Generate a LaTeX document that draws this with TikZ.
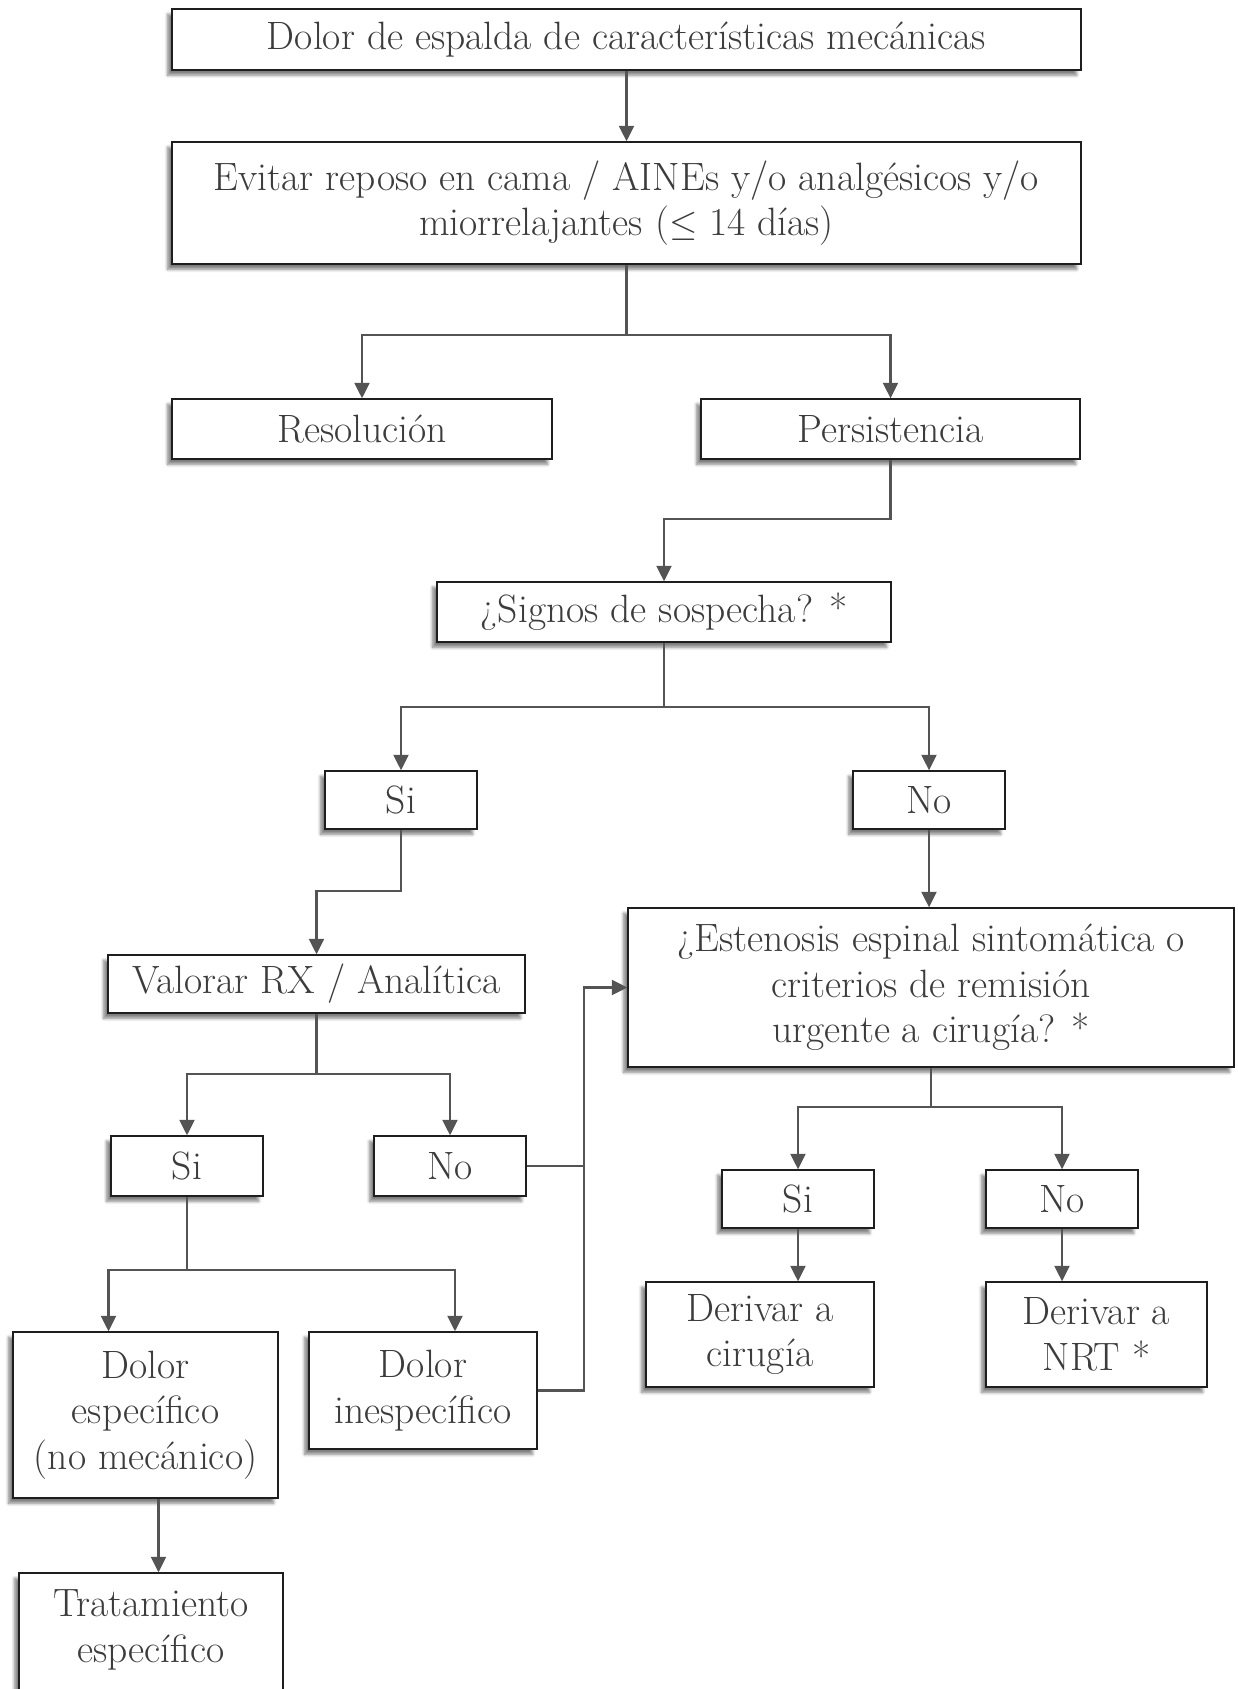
\documentclass[tikz,border=0pt]{standalone}
\usepackage{tikz}
\usetikzlibrary{arrows.meta,shadows.blur}
\definecolor{Ink}{HTML}{3C3C3C}
\definecolor{Wire}{HTML}{545454}
\definecolor{Edge}{HTML}{1E1E1E}
\newcommand{\boxfont}{\fontsize{22.5}{26}\selectfont}

\begin{document}
\begin{tikzpicture}[
  x=0.02cm,y=-0.02cm,
  box/.style={draw=Edge,fill=white,line width=0.8pt,align=center,inner sep=2pt,font=\boxfont,text=Ink,
    blur shadow={shadow xshift=-2.5pt,shadow yshift=-3pt,shadow blur steps=6,shadow opacity=50}},
  wh/.style 2 args={minimum width=#1*0.02cm,minimum height=#2*0.02cm},
  link/.style={draw=Wire,line width=1.2pt},
  arrow/.style={link,-{Triangle[length=3.1mm,width=3mm]}}
]
\useasboundingbox (0,0) rectangle (1237,1689);
% boxes
\node[box,wh={909}{61}] (top) at (626.5,39.5) {Dolor de espalda de características mecánicas};
\node[box,wh={909}{122}] (evit) at (626.5,203) {Evitar reposo en cama / AINEs y/o analgésicos y/o\\miorrelajantes ($\leq$ 14 días)};
\node[box,wh={380}{60}] (res) at (362,429) {Resolución};
\node[box,wh={379}{60}] (per) at (890.5,429) {Persistencia};
\node[box,wh={454}{60}] (sig) at (664,612) {¿Signos de sospecha? *};
\node[box,wh={152}{58}] (si1) at (401,800) {Si};
\node[box,wh={152}{58}] (no1) at (929,800) {No};
\node[box,wh={417}{58}] (val) at (316.5,984) {Valorar RX / Analítica};
\node[box,wh={606}{159}] (est) at (931,987.5) {¿Estenosis espinal sintomática o\\criterios de remisión\\urgente a cirugía? *};
\node[box,wh={152}{60}] (si2) at (187,1166) {Si};
\node[box,wh={152}{60}] (no2) at (450,1166) {No};
\node[box,wh={265}{166}] (desp) at (145.5,1415) {Dolor\\específico\\(no mecánico)};
\node[box,wh={228}{117}] (dinesp) at (423,1390.5) {Dolor\\inespecífico};
\node[box,wh={264}{166}] (trat) at (151,1656) {Tratamiento\\específico\\\strut};
\node[box,wh={152}{58}] (si3) at (798,1199) {Si};
\node[box,wh={152}{58}] (no3) at (1062,1199) {No};
\node[box,wh={228}{105}] (cir) at (760,1334.5) {Derivar a\\cirugía};
\node[box,wh={221}{105}] (nrt) at (1096.5,1334.5) {Derivar a\\NRT *};
% connectors
\draw[arrow] (top) -- (evit);
\draw[link] (evit.south) -- ++(0,70) coordinate (j1);
\draw[arrow] (j1) -| (res);
\draw[arrow] (j1) -| (per);
\draw[arrow] (per.south) -- ++(0,59) -| (sig);
\draw[link] (sig.south) -- ++(0,64) coordinate (j2);
\draw[arrow] (j2) -| (si1);
\draw[arrow] (j2) -| (no1);
\draw[arrow] (si1.south) -- ++(0,61) -| (val);
\draw[arrow] (no1.south) -- (no1.south |- est.north);
\draw[link] (val.south) -- ++(0,60) coordinate (j3);
\draw[arrow] (j3) -| (si2);
\draw[arrow] (j3) -| (no2);
\draw[arrow] (no2.east) -- ++(57,0) |- (est.west);
\draw[link] (dinesp.east) -- ++(46,0) |- (no2.east);
\draw[link] (si2.south) -- ++(0,73) coordinate (j4);
\draw[arrow] (j4) -| ([xshift=-0.74cm]desp.north);
\draw[arrow] (j4) -| ([xshift=0.64cm]dinesp.north);
\draw[arrow] ([xshift=0.26cm]desp.south) -- ([xshift=0.26cm]desp.south |- trat.north);
\draw[link] (est.south) -- ++(0,39) coordinate (j5);
\draw[arrow] (j5) -| (si3);
\draw[arrow] (j5) -| (no3);
\draw[arrow] (si3.south) -- (si3.south |- cir.north);
\draw[arrow] (no3.south) -- (no3.south |- nrt.north);
\end{tikzpicture}
\end{document}
